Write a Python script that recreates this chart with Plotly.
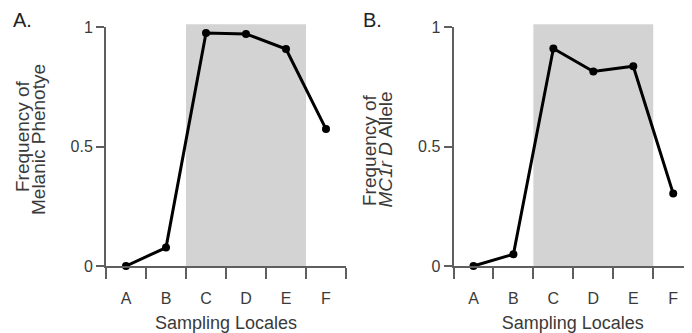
import plotly.graph_objects as go

locales = ["A", "B", "C", "D", "E", "F"]
melanic_phenotype = [0.0, 0.077, 0.975, 0.971, 0.908, 0.573]
mc1r_d_allele = [0.0, 0.049, 0.910, 0.814, 0.836, 0.303]
shade_span = [1.5, 4.5]
y_ticks = [0, 0.5, 1]
y_tick_text = ["0", "0.5", "1"]

xpos = list(range(len(locales)))
FONT = "Liberation Sans, Arial, sans-serif"
AX = "#5f5f5f"
TXT = "#3a3a3a"

# page body has an 8px default margin: size the figure to fit the 692x333 window
OFF = 8
W, H = 692 - OFF, 333 - OFF
PLOT_TOP, PLOT_BOTTOM = 27, 266  # page pixels of the plotting area

def px(x):
    return (x - OFF) / W

def py(y):
    return (PLOT_BOTTOM - y) / (PLOT_BOTTOM - PLOT_TOP)

fig = go.Figure()
fig.add_trace(go.Scatter(x=xpos, y=melanic_phenotype, mode="lines+markers",
                         line=dict(color="black", width=3),
                         marker=dict(color="black", size=8),
                         cliponaxis=False, xaxis="x", yaxis="y", showlegend=False))
fig.add_trace(go.Scatter(x=xpos, y=mc1r_d_allele, mode="lines+markers",
                         line=dict(color="black", width=3),
                         marker=dict(color="black", size=8),
                         cliponaxis=False, xaxis="x2", yaxis="y2", showlegend=False))

for xr in ["x", "x2"]:
    fig.add_shape(type="rect", xref=xr, yref="paper", x0=shade_span[0], x1=shade_span[1],
                  y0=0, y1=1.012, fillcolor="#d3d3d3", line=dict(width=0), layer="below")

def xaxis(domain, rng):
    return dict(domain=domain, range=rng, showgrid=False, zeroline=False, automargin=False,
                showline=True, linecolor=AX, linewidth=2,
                tickmode="array", tickvals=xpos, ticktext=locales,
                ticks="outside", ticklen=10, tickcolor="rgba(0,0,0,0)",
                ticklabelstandoff=7,
                tickfont=dict(family=FONT, size=16, color=TXT),
                minor=dict(tickmode="array", tickvals=[i - 0.5 for i in range(len(locales) + 1)],
                           ticks="outside", ticklen=11, tickwidth=2, tickcolor=AX, showgrid=False),
                title=dict(text="Sampling Locales", font=dict(family=FONT, size=18, color=TXT),
                           standoff=12),
                fixedrange=True)

def yaxis(anchor):
    return dict(domain=[0, 1], range=[0, 1], anchor=anchor, showgrid=False, zeroline=False,
                automargin=False,
                showline=True, linecolor=AX, linewidth=2,
                tickmode="array", tickvals=y_ticks, ticktext=y_tick_text,
                ticks="outside", ticklen=8, tickwidth=2, tickcolor=AX,
                tickfont=dict(family=FONT, size=16, color=TXT), fixedrange=True)

fig.update_layout(
    width=W, height=H,
    margin=dict(l=0, r=0, t=PLOT_TOP - OFF, b=333 - PLOT_BOTTOM),
    paper_bgcolor="white", plot_bgcolor="rgba(0,0,0,0)",
    xaxis=xaxis([px(106), px(346)], [-0.5, 5.5]) | dict(anchor="y"),
    yaxis=yaxis("x"),
    xaxis2=xaxis([px(453.5), 1.0], [-0.5, 5.47]) | dict(anchor="y2"),
    yaxis2=yaxis("x2"),
)

panel_labels = [("A.", 11, 20), ("B.", 361, 20)]
for text, x, y in panel_labels:
    fig.add_annotation(text=text, xref="paper", yref="paper",
                       x=px(x), y=py(y), xanchor="left", yanchor="middle",
                       showarrow=False, font=dict(family=FONT, size=20, color="#222"))

ytitles = [
    ("Frequency of", 22, 136),
    ("Melanic Phenotye", 38, 140),
    ("Frequency of", 346 + 23, 150),
    ("<i>MC1r D</i> Allele", 346 + 38.5, 150),
]
for text, x, y in ytitles:
    fig.add_annotation(text=text, xref="paper", yref="paper", x=px(x), y=py(y),
                       xanchor="center", yanchor="middle", textangle=-90, showarrow=False,
                       font=dict(family=FONT, size=19, color=TXT))

fig.write_html("out.html")
